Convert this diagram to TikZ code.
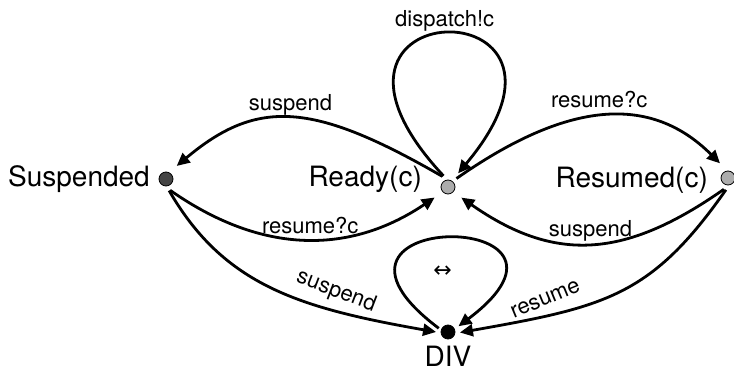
\documentclass[tikz,border=0pt]{standalone}
\usepackage{fontspec}
\setmainfont{TeX Gyre Heros}
\newfontfamily\symfont{DejaVu Sans}
\usepackage{tikz}
\usetikzlibrary{arrows.meta}
\definecolor{StateDark}{RGB}{68,68,68}
\definecolor{StateLight}{RGB}{172,172,172}

\begin{document}
\begin{tikzpicture}[x=1pt, y=1pt,
		st/.style={circle, draw=black, line width=0.8pt, inner sep=0pt, minimum size=14pt, outer sep=5pt},
		stname/.style={font=\fontsize{28}{32}\selectfont, inner sep=0pt},
		tr/.style={line width=2.8pt, -{Triangle[length=13pt, width=12pt]}, shorten >=5pt},
		lab/.style={font=\fontsize{22}{26}\selectfont, inner sep=1pt}]
	\useasboundingbox (0,0) rectangle (734,370);
	\node[st, fill=StateDark] (sus) at (166,191) {};
	\node[st, fill=StateLight] (rdy) at (448,183) {};
	\node[st, fill=StateLight] (res) at (728,192) {};
	\node[st, fill=black, outer sep=3pt] (div) at (448,38) {};
	\node[stname, anchor=base east] (susname) at ([xshift=-16pt, yshift=-8pt]sus.center) {Suspended};
	\node[stname, anchor=base east] (rdyname) at ([xshift=-26pt]rdy.center) {Ready(c)};
	\node[stname, anchor=base east] (resname) at ([xshift=-20pt, yshift=-10pt]res.center) {Resumed(c)};
	\node[stname, anchor=base] (divname) at ([yshift=-34pt]div.center) {DIV};
	\draw[tr] (rdy.112) .. controls +(133:256) and +(50:253) .. (rdy.55) node[lab, above, midway] {dispatch!c};
	\draw[tr] (rdy.118) .. controls +(150:150) and +(40:110) .. (sus.55) node[lab, above, midway] {suspend};
	\draw[tr] (rdy.45) .. controls +(35:125) and +(135:110) .. (res.112) node[lab, above=6pt, midway] {resume?c};
	\draw[tr] (sus.-70) .. controls +(-35:120) and +(-146:100) .. (rdy.220) node[lab, above=3pt, midway] {resume?c};
	\draw[tr] (res.-110) .. controls +(-145:120) and +(-35:120) .. (rdy.-40) node[lab, above, midway] {suspend};
	\draw[tr, shorten >=2pt] (sus.-75) .. controls +(-60:110) and +(170:140) .. (div.182) node[lab, sloped, rotate=-5, above=6pt, pos=0.7] {suspend};
	\draw[tr, shorten >=2pt] (res.-100) .. controls +(-125:130) and +(10:150) .. (div.-5) node[lab, sloped, rotate=9, above=8pt, pos=0.75] {resume};
	\draw[tr, shorten >=2pt] (div.158) .. controls +(143:200) and +(37:199) .. (div.27) node[below=23pt, xshift=-5pt, midway, font=\symfont\fontsize{22}{24}\selectfont] {↔};
\end{tikzpicture}
\end{document}
